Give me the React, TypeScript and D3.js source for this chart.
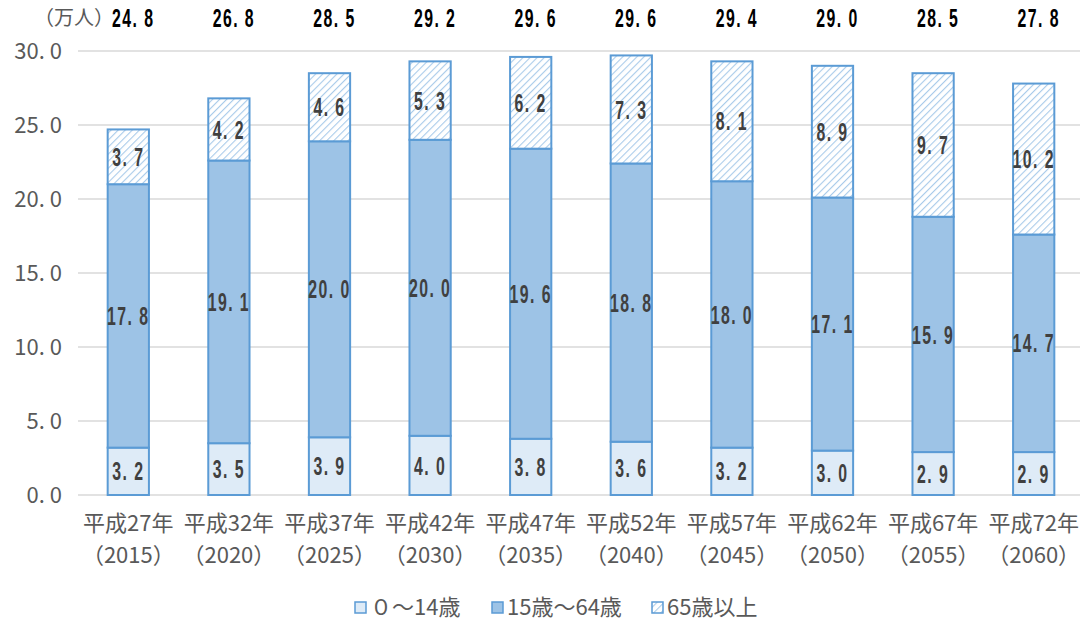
import React from "react";
import * as d3 from "d3";

const categoriesTop = ["平成27年", "平成32年", "平成37年", "平成42年", "平成47年", "平成52年", "平成57年", "平成62年", "平成67年", "平成72年"];
const categoriesBottom = ["（2015）", "（2020）", "（2025）", "（2030）", "（2035）", "（2040）", "（2045）", "（2050）", "（2055）", "（2060）"];
const young = [3.2, 3.5, 3.9, 4.0, 3.8, 3.6, 3.2, 3.0, 2.9, 2.9];
const working = [17.8, 19.1, 20.0, 20.0, 19.6, 18.8, 18.0, 17.1, 15.9, 14.7];
const elderly = [3.7, 4.2, 4.6, 5.3, 6.2, 7.3, 8.1, 8.9, 9.7, 10.2];
const totals = [24.8, 26.8, 28.5, 29.2, 29.6, 29.6, 29.4, 29.0, 28.5, 27.8];
const yTicks = [0, 5, 10, 15, 20, 25, 30];
const seriesNames = ["０～14歳", "15歳～64歳", "65歳以上"];

const W = 1081, H = 623;
const left = 78, right = 1084, top = 51, bottom = 495;

const fmt = (v: number) => {
  const s = v.toFixed(1).split(".");
  return s[0] + ". " + s[1];
};

export default function App() {
  const x = d3.scaleBand<number>().domain(d3.range(10)).range([left, right]).paddingInner(0.59).paddingOuter(0.295);
  const y = d3.scaleLinear().domain([0, 30]).range([bottom, top]);
  const stroke = "#5B9BD5";
  const fills = ["#DEEBF7", "#9DC3E6", "url(#hatch)"];
  const series = [young, working, elderly];
  const labelFont = "'Liberation Sans', Arial, sans-serif";
  const cjk = "'Noto Sans CJK JP', sans-serif";
  const Label = ({ cx, cy, text, color }: { cx: number; cy: number; text: string; color: string }) => (
    <text transform={`translate(${cx},${cy}) scale(0.72,1.15)`} dy="0.36em" textAnchor="middle" fontSize={22} fontWeight="bold" letterSpacing={2} fill={color} fontFamily={labelFont}>{text}</text>
  );
  return (
    <svg width={W} height={H} style={{ position: "absolute", left: 0, top: 0, background: "#fff" }}>
      <defs>
        <pattern id="hatch" width="5" height="5" patternUnits="userSpaceOnUse" patternTransform="rotate(45)">
          <rect width="5" height="5" fill="#fff" />
          <line x1="0" y1="0" x2="0" y2="5" stroke="#A9CBEA" strokeWidth="2.2" />
        </pattern>
      </defs>
      {yTicks.map((t) => (
        <g key={t}>
          <line x1={left} x2={1080} y1={y(t)} y2={y(t)} stroke="#D9D9D9" strokeWidth={1.5} />
          <text x={62} y={y(t)} dy="0.36em" textAnchor="end" fontSize={22} fill="#595959" fontFamily={cjk}>{fmt(t)}</text>
        </g>
      ))}
      <text x={34} y={25} fontSize={20} fill="#595959" fontFamily={cjk}>（万人）</text>
      {d3.range(10).map((i) => {
        let acc = 0;
        const bw = x.bandwidth();
        const x0 = x(i)!;
        return (
          <g key={i}>
            {series.map((s, k) => {
              const y0 = acc;
              acc += s[i];
              const yTop = y(acc), yBot = y(y0);
              return (
                <g key={k}>
                  <rect x={x0} y={yTop} width={bw} height={yBot - yTop} fill={fills[k]} stroke={stroke} strokeWidth={2} />
                  <Label cx={x0 + bw / 2} cy={(yTop + yBot) / 2} text={fmt(s[i])} color="#404040" />
                </g>
              );
            })}
            <Label cx={x0 + bw / 2 + 5} cy={18} text={fmt(totals[i])} color="#000" />
            <text x={x0 + bw / 2} y={531} textAnchor="middle" fontSize={22} fill="#595959" fontFamily={cjk}>{categoriesTop[i]}</text>
            <text x={x0 + bw / 2} y={563} textAnchor="middle" fontSize={22} fill="#595959" fontFamily={cjk}>{categoriesBottom[i]}</text>
          </g>
        );
      })}
      {seriesNames.map((n, k) => {
        const lx = [355, 492, 652][k];
        return (
          <g key={n}>
            <rect x={lx} y={602} width={11} height={11} fill={fills[k]} stroke={stroke} strokeWidth={1.5} />
            <text x={lx + 15} y={607} dy="0.36em" fontSize={22} fill="#595959" fontFamily={cjk}>{n}</text>
          </g>
        );
      })}
    </svg>
  );
}
